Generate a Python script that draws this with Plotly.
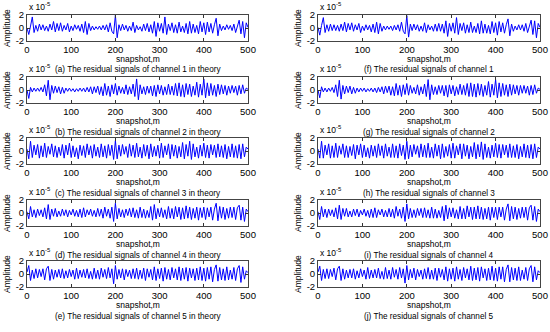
import plotly.graph_objects as go

# ---------------- data (amplitudes in units of 1e-5) ----------------
snapshot = list(range(0, 501, 4))
x_ticks = [0, 100, 200, 300, 400, 500]
y_ticks = [-2, 0, 2]
scale = 1e-5

theory_ch1 = [0.0, -1.0, 0.3, 1.7, -0.7, 0.4, -0.5, 0.6, -0.3, 0.5,
              -0.4, 0.3, -0.5, 0.6, -0.3, 1.0, -0.6, 0.7, -0.4, 0.8,
              -0.5, 0.4, -0.3, 0.7, -0.6, 0.3, -0.4, 0.5, -0.2, 0.4,
              -0.5, 0.6, -0.7, 1.0, -1.0, 0.7, -0.4, 0.3, -0.3, 0.2,
              -0.2, 0.3, -0.3, 0.4, -0.3, 0.5, -0.6, 0.8, -0.5, -0.9,
              2.0, -1.5, 0.5, -0.4, 0.6, -0.3, 0.4, -0.5, 0.3, -0.4,
              0.9, -0.7, 0.4, -0.3, 0.2, -0.5, 0.6, -0.4, 0.7, -0.6,
              0.5, -0.8, 1.0, -1.3, 0.8, -0.5, 0.7, -0.8, 1.7, -1.0,
              0.6, -0.4, 0.8, -0.7, 0.5, -0.8, 0.9, -0.6, 0.3, -0.7,
              0.7, -0.9, 1.0, -0.8, 0.6, -0.7, 0.4, -0.9, 1.0, -0.6,
              0.8, -1.0, 0.9, -0.6, 0.7, -0.8, 0.5, 1.5, -1.2, 0.6,
              -0.4, 0.3, -0.3, 0.5, -0.2, 0.4, -0.4, 0.6, -0.7, 0.5,
              1.2, -0.9, 1.0, -1.5, 0.8, 0.1]
theory_ch2 = [0.0, -1.3, 0.4, -0.3, 0.3, -0.2, 0.3, -0.2, 0.4, -0.3,
              0.8, -0.9, 1.5, -1.5, 0.7, -0.5, 0.6, -0.4, 0.5, -0.6,
              0.4, -0.5, 0.3, -0.2, 0.3, -0.2, 0.2, -0.3, 0.2, -0.2,
              0.3, -0.2, 0.3, -0.3, 0.4, -0.3, 0.5, -0.6, 0.5, -0.4,
              0.6, -0.7, 0.5, -0.9, 1.0, -0.8, 0.6, -1.0, 0.8, -0.6,
              1.0, -0.8, 0.6, -0.5, 0.4, -0.6, 0.8, -0.7, 0.5, -0.6,
              0.9, -1.0, 1.7, -1.5, 0.8, -0.6, 0.5, -0.7, 0.6, -0.5,
              0.6, -0.9, 0.7, -1.0, 0.8, -0.6, 0.7, -0.8, 0.5, -0.7,
              0.9, -0.7, 0.6, -0.8, 1.0, -0.9, 1.1, -1.0, 0.8, -1.1,
              1.0, -0.7, 0.9, -1.0, 0.6, -0.8, 1.2, -1.1, 0.9, -0.8,
              1.7, -1.2, 1.1, -0.9, 1.0, -0.8, 0.7, -1.0, 0.9, -0.7,
              0.8, -0.6, 0.7, -0.8, 0.6, -0.5, 0.7, -0.4, 0.6, -0.8,
              0.7, -0.6, 0.8, -0.5, 0.3, 0.1]
theory_ch3 = [0.3, -1.2, 1.5, -1.0, 0.9, -0.6, 1.0, -1.1, 0.8, -0.9,
              1.2, -1.0, 0.7, -0.5, 1.1, -0.9, 0.8, -1.0, 0.6, -0.7,
              1.0, -1.1, 0.9, -0.6, 1.2, -1.0, 0.8, -0.9, 0.5, -1.2,
              0.9, -0.7, 0.8, -1.0, 1.1, -0.6, 0.8, -1.1, 1.0, -0.8,
              0.6, -1.0, 1.1, -0.9, 0.8, -1.1, 1.0, -0.7, 0.9, -1.3,
              1.6, -1.2, 0.9, -0.8, 1.0, -0.5, 0.7, -1.0, 1.1, -0.8,
              0.9, -1.0, 1.2, -0.9, 0.6, -1.1, 1.0, -0.8, 0.9, -1.2,
              1.1, -0.9, 0.7, -0.8, 0.9, -1.1, 1.2, -1.0, 0.8, -0.6,
              1.1, -1.2, 1.0, -0.8, 0.9, -1.1, 0.7, -0.9, 1.3, -1.2,
              1.0, -0.8, 1.5, -1.3, 1.1, -0.9, 0.6, -1.1, 0.9, -0.8,
              1.2, -1.0, 0.9, -1.1, 1.0, -0.6, 0.9, -1.0, 1.1, -0.9,
              0.8, -1.0, 1.0, -1.2, 0.7, -0.9, 1.1, -1.0, 0.8, -1.1,
              1.0, -1.2, 1.1, -0.9, 0.6, 0.3]
theory_ch4 = [0.2, -0.9, 1.0, -0.6, 0.5, -0.7, 0.6, -0.4, 0.5, -0.6,
              0.8, -0.9, 1.3, -1.0, 0.6, -0.5, 0.7, -0.6, 0.3, -0.5,
              0.6, -0.4, 0.5, -0.6, 0.4, -0.3, 0.6, -0.5, 0.4, -0.6,
              0.6, -0.7, 0.8, -0.6, 0.5, -0.3, 0.6, -0.5, 0.4, -0.6,
              0.7, -0.5, 0.6, -0.8, 0.9, -0.5, 0.6, -0.8, 0.9, -1.3,
              1.5, -0.9, 0.7, -0.6, 0.5, -0.7, 0.6, -0.4, 0.7, -0.6,
              0.8, -0.7, 0.5, -0.8, 0.9, -0.7, 0.6, -0.8, 0.4, -0.7,
              1.0, -1.1, 1.3, -0.9, 0.7, -0.6, 0.8, -0.7, 0.5, -0.9,
              1.0, -0.8, 0.7, -0.9, 1.0, -0.6, 0.9, -1.0, 0.8, -0.9,
              1.1, -0.8, 0.9, -1.0, 0.7, -0.8, 0.9, -1.1, 0.8, -0.7,
              0.9, -1.0, 0.8, -0.6, 0.9, -1.1, 0.6, 1.5, -1.2, 1.0,
              -0.8, 0.9, -1.0, 0.7, -0.8, 0.9, -0.7, 0.9, -1.0, 0.8,
              1.2, -1.1, 0.9, -1.3, 0.6, 0.2]
theory_ch5 = [0.3, 1.3, -1.0, 0.6, -0.7, 0.8, -0.6, 0.7, -0.4, 0.8,
              -0.9, 0.8, 1.2, -1.0, 0.7, -0.8, 0.6, -0.5, 0.7, -0.6,
              0.8, -0.7, 0.5, -0.6, 0.7, -0.4, 0.6, -0.8, 0.9, -0.7,
              0.6, -0.5, 0.7, -0.6, 0.8, -0.7, 0.4, -0.8, 0.9, -0.7,
              0.6, -0.8, 0.9, -0.5, 0.7, -0.7, 1.0, -0.6, 0.8, -1.5,
              1.3, -0.8, 0.7, -0.6, 0.8, -0.9, 0.7, -0.4, 0.6, -0.7,
              0.8, -0.7, 0.9, -0.8, 0.6, -0.7, 0.9, -1.0, 0.8, -0.5,
              0.7, -0.9, 1.1, -1.0, 0.8, -0.7, 0.9, -1.1, 1.0, -0.8,
              0.7, -0.9, 1.0, -0.6, 0.8, -0.9, 1.1, -1.0, 0.9, -0.8,
              1.0, -1.1, 0.9, -0.6, 0.8, -1.0, 0.9, -0.9, 1.1, -1.0,
              0.9, -1.1, 1.0, -0.8, 1.1, -1.2, 0.7, 1.4, -1.1, 1.0,
              -0.9, 0.8, -1.0, 1.1, -0.9, 0.6, -0.8, 1.0, -1.0, 0.8,
              1.3, -1.3, 1.1, -0.8, 0.5, 0.2]

est_ch1 = [0.1, -1.1, 0.4, 1.6, -0.7, 0.5, -0.5, 0.6, -0.4, 0.5,
           -0.4, 0.4, -0.5, 0.6, -0.4, 0.9, -0.6, 0.7, -0.3, 0.8,
           -0.5, 0.5, -0.3, 0.7, -0.7, 0.3, -0.4, 0.5, -0.3, 0.4,
           -0.6, 0.6, -0.7, 0.9, -0.9, 0.7, -0.5, 0.3, -0.3, 0.3,
           -0.2, 0.3, -0.4, 0.4, -0.3, 0.5, -0.5, 0.9, -0.5, -0.9,
           1.9, -1.4, 0.6, -0.4, 0.6, -0.3, 0.5, -0.5, 0.3, -0.5,
           0.8, -0.7, 0.5, -0.3, 0.3, -0.5, 0.6, -0.5, 0.7, -0.5,
           0.6, -0.8, 1.1, -1.3, 0.7, -0.5, 0.8, -0.8, 1.6, -1.0,
           0.7, -0.4, 0.8, -0.8, 0.5, -0.7, 0.9, -0.7, 0.3, -0.7,
           0.7, -0.9, 1.1, -0.8, 0.6, -0.8, 0.4, -0.9, 1.0, -0.7,
           0.8, -1.1, 1.0, -0.6, 0.8, -0.8, 0.5, 1.4, -1.2, 0.6,
           -0.5, 0.3, -0.3, 0.5, -0.3, 0.5, -0.5, 0.7, -0.7, 0.5,
           1.2, -1.0, 1.1, -1.5, 0.7, 0.1]
est_ch2 = [0.0, -1.2, 0.5, -0.3, 0.3, -0.3, 0.3, -0.2, 0.4, -0.4,
           0.8, -1.0, 1.5, -1.4, 0.7, -0.6, 0.6, -0.4, 0.6, -0.6,
           0.4, -0.5, 0.3, -0.3, 0.3, -0.2, 0.3, -0.3, 0.2, -0.2,
           0.3, -0.3, 0.3, -0.4, 0.4, -0.3, 0.5, -0.6, 0.6, -0.4,
           0.6, -0.8, 0.5, -0.9, 1.0, -0.8, 0.7, -1.0, 0.8, -0.7,
           1.0, -0.8, 0.7, -0.5, 0.4, -0.6, 0.8, -0.8, 0.5, -0.6,
           0.9, -1.0, 1.6, -1.5, 0.8, -0.7, 0.5, -0.7, 0.7, -0.5,
           0.7, -0.9, 0.7, -1.1, 0.8, -0.6, 0.7, -0.9, 0.5, -0.7,
           0.9, -0.7, 0.7, -0.8, 1.0, -1.0, 1.1, -1.0, 0.9, -1.1,
           1.0, -0.8, 0.9, -1.0, 0.7, -0.8, 1.3, -1.1, 0.9, -0.8,
           1.6, -1.2, 1.1, -1.0, 1.0, -0.8, 0.8, -1.0, 0.9, -0.8,
           0.8, -0.6, 0.7, -0.8, 0.7, -0.5, 0.7, -0.5, 0.6, -0.8,
           0.7, -0.7, 0.8, -0.5, 0.3, 0.1]
est_ch3 = [0.3, -1.1, 1.5, -1.1, 0.9, -0.6, 1.1, -1.1, 0.8, -1.0,
           1.2, -1.0, 0.8, -0.5, 1.1, -1.0, 0.8, -1.0, 0.7, -0.7,
           1.0, -1.2, 0.9, -0.6, 1.1, -1.0, 0.9, -0.9, 0.5, -1.1,
           0.9, -0.8, 0.8, -1.0, 1.1, -0.7, 0.8, -1.1, 1.1, -0.8,
           0.6, -1.0, 1.1, -1.0, 0.8, -1.1, 1.1, -0.7, 0.9, -1.3,
           1.5, -1.2, 0.9, -0.9, 1.0, -0.5, 0.8, -1.0, 1.1, -0.9,
           0.9, -1.0, 1.2, -1.0, 0.6, -1.1, 1.1, -0.8, 0.9, -1.2,
           1.1, -1.0, 0.7, -0.8, 1.0, -1.1, 1.2, -1.1, 0.8, -0.6,
           1.1, -1.2, 1.1, -0.8, 0.9, -1.2, 0.7, -0.9, 1.3, -1.2,
           1.0, -0.9, 1.4, -1.3, 1.1, -1.0, 0.6, -1.1, 0.9, -0.9,
           1.2, -1.0, 1.0, -1.1, 1.0, -0.6, 0.9, -1.0, 1.1, -1.0,
           0.8, -1.0, 1.0, -1.2, 0.7, -0.9, 1.1, -1.0, 0.9, -1.1,
           1.0, -1.2, 1.1, -1.0, 0.6, 0.3]
est_ch4 = [0.2, -1.0, 1.0, -0.6, 0.6, -0.7, 0.6, -0.4, 0.5, -0.6,
           0.8, -0.9, 1.2, -1.0, 0.7, -0.5, 0.7, -0.6, 0.3, -0.6,
           0.6, -0.4, 0.6, -0.6, 0.4, -0.3, 0.6, -0.5, 0.4, -0.7,
           0.6, -0.7, 0.8, -0.7, 0.5, -0.3, 0.6, -0.6, 0.4, -0.6,
           0.7, -0.6, 0.6, -0.8, 1.0, -0.5, 0.6, -0.8, 0.9, -1.3,
           1.4, -0.9, 0.7, -0.7, 0.5, -0.7, 0.7, -0.4, 0.7, -0.7,
           0.8, -0.7, 0.5, -0.8, 0.9, -0.8, 0.6, -0.8, 0.4, -0.7,
           1.0, -1.2, 1.2, -0.9, 0.8, -0.6, 0.8, -0.8, 0.5, -0.9,
           1.0, -0.9, 0.7, -0.9, 1.1, -0.6, 0.9, -1.0, 0.9, -0.9,
           1.1, -0.9, 0.9, -1.0, 0.7, -0.9, 0.9, -1.1, 0.9, -0.7,
           0.9, -1.0, 0.9, -0.6, 0.9, -1.1, 0.6, 1.4, -1.2, 1.0,
           -0.9, 0.9, -1.0, 0.7, -0.8, 0.9, -0.7, 0.9, -1.1, 0.8,
           1.2, -1.1, 1.0, -1.3, 0.6, 0.2]
est_ch5 = [0.3, 1.2, -1.0, 0.7, -0.7, 0.8, -0.7, 0.7, -0.4, 0.9,
           -0.9, 0.8, 1.2, -1.0, 0.8, -0.8, 0.6, -0.6, 0.7, -0.6,
           0.8, -0.8, 0.5, -0.6, 0.8, -0.4, 0.6, -0.8, 1.0, -0.7,
           0.6, -0.6, 0.7, -0.6, 0.9, -0.7, 0.4, -0.8, 1.0, -0.7,
           0.6, -0.8, 1.0, -0.5, 0.7, -0.8, 1.0, -0.6, 0.8, -1.4,
           1.3, -0.9, 0.7, -0.6, 0.9, -0.9, 0.7, -0.4, 0.6, -0.8,
           0.8, -0.7, 1.0, -0.8, 0.6, -0.8, 0.9, -1.0, 0.9, -0.5,
           0.7, -0.9, 1.1, -1.1, 0.8, -0.8, 0.9, -1.1, 1.1, -0.8,
           0.7, -1.0, 1.0, -0.6, 0.8, -0.9, 1.2, -1.0, 0.9, -0.9,
           1.0, -1.1, 1.1, -0.6, 0.8, -1.0, 0.9, -0.9, 1.2, -1.0,
           0.9, -1.1, 1.1, -0.8, 1.1, -1.2, 0.7, 1.4, -1.2, 1.0,
           -0.9, 0.9, -1.0, 1.1, -1.0, 0.6, -0.8, 1.0, -1.0, 0.8,
           1.3, -1.2, 1.1, -0.9, 0.5, 0.2]

captions_left = ["(a) The residual signals of channel 1 in theory",
                 "(b) The residual signals of channel 2 in theory",
                 "(c) The residual signals of channel 3 in theory",
                 "(d) The residual signals of channel 4 in theory",
                 "(e) The residual signals of channel 5 in theory"]
captions_right = ["(f) The residual signals of channel 1",
                  "(g) The residual signals of channel 2",
                  "(h) The residual signals of channel 3",
                  "(i) The residual signals of channel 4",
                  "(j) The residual signals of channel 5"]

series_left = [theory_ch1, theory_ch2, theory_ch3, theory_ch4, theory_ch5]
series_right = [est_ch1, est_ch2, est_ch3, est_ch4, est_ch5]

# ---------------- layout ----------------
W, H = 550, 332
FONT = "Liberation Sans, Arial, Helvetica, sans-serif"
row_tops = [15, 77, 138, 200, 261]
plot_h = 26
col_lr = [(27, 248), (318, 540)]


def px(xp):
    return xp / W


def py(yp):
    return 1 - yp / H


fig = go.Figure()
layout = dict(width=W, height=H, margin=dict(l=0, r=0, t=0, b=0, autoexpand=False),
              paper_bgcolor="white", plot_bgcolor="white", showlegend=False,
              font=dict(family=FONT, size=9, color="black"))
annotations = []

for c in range(2):
    series = series_left if c == 0 else series_right
    caps = captions_left if c == 0 else captions_right
    l, r = col_lr[c]
    for rI in range(5):
        k = c * 5 + rI + 1
        t = row_tops[rI]
        b = t + plot_h
        fig.add_trace(go.Scatter(x=snapshot, y=[v * scale for v in series[rI]],
                                 mode="lines", line=dict(color="#0000ff", width=1),
                                 xaxis=f"x{k}", yaxis=f"y{k}", hoverinfo="skip"))
        layout[f"xaxis{k}"] = dict(domain=[px(l), px(r)], anchor=f"y{k}", range=[0, 500],
                                   tickvals=x_ticks, ticktext=[str(v) for v in x_ticks],
                                   ticks="inside", ticklen=3, tickcolor="#333",
                                   showline=True, linecolor="#444", linewidth=1, mirror="ticks",
                                   showgrid=False, zeroline=False, automargin=False,
                                   tickfont=dict(family=FONT, size=9.5, color="black"))
        layout[f"yaxis{k}"] = dict(domain=[py(b), py(t)], anchor=f"x{k}", range=[-2 * scale, 2 * scale],
                                   tickvals=[v * scale for v in y_ticks], ticktext=[str(v) for v in y_ticks],
                                   ticks="inside", ticklen=3, tickcolor="#333",
                                   showline=True, linecolor="#444", linewidth=1, mirror="ticks",
                                   showgrid=False, zeroline=False, automargin=False,
                                   tickfont=dict(family=FONT, size=9.5, color="black"))
        # exponent label
        annotations.append(dict(x=px(l), y=py(t - 1), xref="paper", yref="paper",
                                text="x 10<sup>-5</sup>", showarrow=False,
                                xanchor="left", yanchor="bottom",
                                font=dict(family=FONT, size=8.5, color="black")))
        # y label
        annotations.append(dict(x=px(l - 20), y=py(t + plot_h / 2), xref="paper", yref="paper",
                                text="Amplitude", showarrow=False, textangle=-90,
                                xanchor="center", yanchor="middle",
                                font=dict(family=FONT, size=8.5, color="black")))
        # x label
        annotations.append(dict(x=px((l + r) / 2), y=py(b + 18), xref="paper", yref="paper",
                                text="snapshot,m", showarrow=False,
                                xanchor="center", yanchor="middle",
                                font=dict(family=FONT, size=8.5, color="black")))
        # caption
        annotations.append(dict(x=px((l + r) / 2), y=py(b + 29), xref="paper", yref="paper",
                                text=caps[rI], showarrow=False,
                                xanchor="center", yanchor="middle",
                                font=dict(family=FONT, size=8.2, color="black")))

layout["annotations"] = annotations
fig.update_layout(**layout)
fig.write_html("out.html", config={"displayModeBar": False},
               post_script="document.body.style.margin='0px';document.body.style.padding='0px';")
